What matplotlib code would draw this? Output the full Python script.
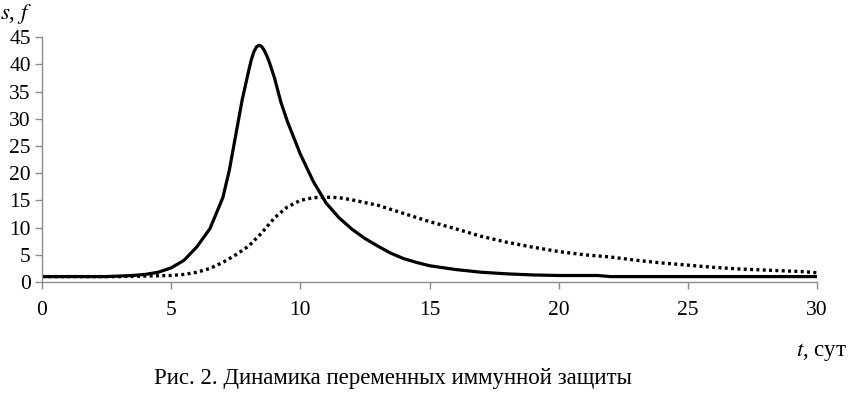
import numpy as np
import matplotlib.pyplot as plt

plt.rcParams['font.family'] = ['Liberation Serif', 'DejaVu Serif']

# s(t) - solid curve
t_s = [0, 1, 2, 2.5, 3, 3.5, 4, 4.5, 5, 5.5, 6, 6.5, 7, 7.25, 7.5, 7.75, 8, 8.1, 8.2,
       8.3, 8.4, 8.5, 8.6, 8.7, 8.8, 9, 9.25, 9.5, 9.75, 10, 10.5, 11, 11.5, 12, 12.5,
       13, 13.5, 14, 14.5, 15, 16, 17, 18, 19, 20, 21, 21.5, 22, 23, 25, 27, 30]
s_vals = [1.0, 1.0, 1.0, 1.0, 1.1, 1.2, 1.4, 1.8, 2.6, 4.0, 6.5, 9.8, 15.5, 20.5, 27,
          33.5, 38.8, 40.8, 42.3, 43.2, 43.5, 43.3, 42.6, 41.6, 40.4, 37.5, 33, 29.5,
          26.5, 23.5, 18.5, 14.5, 11.8, 9.7, 8.0, 6.6, 5.3, 4.3, 3.6, 3.0, 2.3, 1.8,
          1.5, 1.3, 1.2, 1.2, 1.2, 1.0, 1.0, 1.0, 1.0, 1.0]

# f(t) - dotted curve
t_f = [0, 2, 3, 4, 5, 5.5, 6, 6.5, 7, 7.5, 8, 8.5, 9, 9.5, 10, 10.5, 11, 11.5, 12, 13,
       14, 15, 16, 17, 18, 19, 20, 21, 22, 23, 24, 25, 26, 27, 28, 29, 29.5, 30]
f_vals = [1.0, 1.0, 1.0, 1.1, 1.2, 1.4, 1.8, 2.5, 3.6, 5.0, 6.6, 9.0, 11.8, 13.8, 15.0,
          15.5, 15.6, 15.5, 15.1, 14.1, 12.6, 11.1, 9.8, 8.4, 7.3, 6.4, 5.6, 5.0, 4.6,
          4.0, 3.5, 3.1, 2.7, 2.4, 2.2, 2.0, 1.9, 1.7]

fig = plt.figure(figsize=(8.48, 3.95), dpi=100)
ax = fig.add_axes([0.0495, 0.286, 0.914, 0.62])

ax.plot(t_s, s_vals, color='black', lw=2.3, solid_joinstyle='round')
ax.plot(t_f, f_vals, color='black', lw=2.4, linestyle=(0, (0.9, 1.0)))

ax.set_xlim(0, 30)
ax.set_ylim(0, 45)
ax.set_xticks(range(0, 31, 5))
ax.set_yticks(range(0, 46, 5))

for side in ['top', 'right']:
    ax.spines[side].set_visible(False)
for side in ['left', 'bottom']:
    ax.spines[side].set_color('#8c8c8c')
    ax.spines[side].set_linewidth(1.0)
ax.tick_params(axis='both', colors='#8c8c8c', labelcolor='black', labelsize=15.5,
               length=5, width=1.0, direction='out')
ax.tick_params(axis='x', pad=9)
ax.tick_params(axis='y', pad=3)

fig.text(0.0, 0.995, '$s$, $f$', fontsize=16.5, va='top', ha='left',
         math_fontfamily='stix')
fig.text(0.999, 0.11, '$t$, сут', fontsize=16.5, va='center', ha='right',
         math_fontfamily='stix')
fig.text(0.463, 0.043, 'Рис. 2. Динамика переменных иммунной защиты', fontsize=16.5,
         va='center', ha='center')

fig.savefig('out.png', dpi=100)
